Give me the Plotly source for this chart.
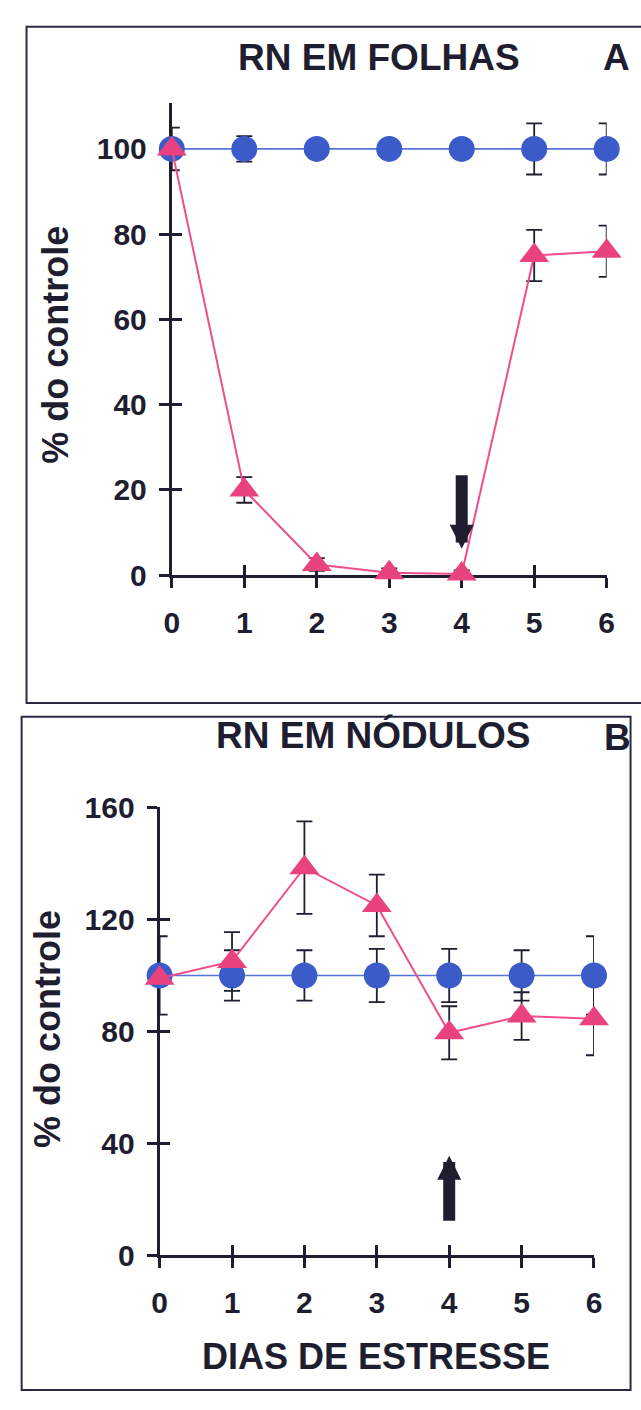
import plotly.graph_objects as go

# ---------------- data ----------------
days = [0, 1, 2, 3, 4, 5, 6]

# Panel A - RN em folhas
folhas_controle = [100, 100, 100, 100, 100, 100, 100]
folhas_controle_err = [5, 3, 0, 0, 0, 6, 6]
folhas_estresse = [100, 20, 2.5, 0.6, 0.3, 75, 76]
folhas_estresse_err = [0, 3, 1.5, 1, 0.8, 6, 6]
folhas_yticks = [0, 20, 40, 60, 80, 100]

# Panel B - RN em nodulos
nodulos_controle = [100, 100, 100, 100, 100, 100, 100]
nodulos_controle_err = [14, 9, 9, 9.5, 9.5, 9, 14]
nodulos_estresse = [99, 105, 138.5, 125, 79.5, 85.5, 84.5]
nodulos_estresse_err = [0, 10.5, 16.5, 11, 9.5, 8.5, 13]
nodulos_yticks = [0, 40, 80, 120, 160]

arrow_day = 4
folhas_arrow = [23.8, 6.2]     # tail, tip (value)
nodulos_arrow = [11.8, 35.6]   # tail, tip (value)

# ---------------- style ----------------
W, H = 641, 1410
DARK = "#1e1e30"
BLUE = "#3b5bc9"
BLUE_LINE = "#5573d8"
PINK = "#e9437f"
PINK_LINE = "#ef4d8c"
FONT = "Liberation Sans, Arial, sans-serif"


def px_x(p):
    return p / W


def px_y(p):
    return 1 - p / H


fig = go.Figure()


def add_panel(xa, ya, ctrl, ctrl_err, trt, trt_err):
    # error bars first (below markers)
    for yv, err in ((ctrl, ctrl_err), (trt, trt_err)):
        fig.add_trace(go.Scatter(
            x=days, y=yv, mode="markers", xaxis=xa, yaxis=ya,
            marker=dict(size=1, opacity=0), cliponaxis=False,
            error_y=dict(type="data", array=err, color=DARK, thickness=1.8, width=8),
            showlegend=False, hoverinfo="skip"))
    fig.add_trace(go.Scatter(
        x=days, y=ctrl, mode="lines+markers", xaxis=xa, yaxis=ya,
        line=dict(color=BLUE_LINE, width=1.6),
        marker=dict(symbol="circle", size=26, color=BLUE, line=dict(width=0)),
        cliponaxis=False, showlegend=False))
    fig.add_trace(go.Scatter(
        x=days, y=trt, mode="lines+markers", xaxis=xa, yaxis=ya,
        line=dict(color=PINK_LINE, width=2),
        marker=dict(symbol="triangle-up", size=26, color=PINK, line=dict(width=0)),
        cliponaxis=False, showlegend=False))


add_panel("x", "y", folhas_controle, folhas_controle_err, folhas_estresse, folhas_estresse_err)
add_panel("x2", "y2", nodulos_controle, nodulos_controle_err, nodulos_estresse, nodulos_estresse_err)

# invisible traces for overlay axes (inner half of crossing ticks)
fig.add_trace(go.Scatter(x=[None], y=[None], xaxis="x3", yaxis="y3", showlegend=False))
fig.add_trace(go.Scatter(x=[None], y=[None], xaxis="x4", yaxis="y4", showlegend=False))

tickfont = dict(family=FONT, size=30, color=DARK, weight="bold")

common_x = dict(range=[0, 6], tickvals=days, ticktext=[str(d) for d in days],
                showgrid=False, zeroline=False, layer="below traces", fixedrange=True)
common_y = dict(showgrid=False, zeroline=False, layer="below traces", fixedrange=True)

A_xdom = [px_x(168), px_x(614)]
A_ydom = [px_y(572), px_y(88)]
A_yrange = [0, 110.8]
B_xdom = [px_x(155.5), px_x(601)]
B_ydom = [px_y(1269), px_y(810)]
B_yrange = [0, 160]

outer = dict(ticks="outside", ticklen=10, tickwidth=2.5, tickcolor=DARK,
             showline=True, linewidth=3, linecolor=DARK, tickfont=tickfont)
inner = dict(ticks="inside", ticklen=10, tickwidth=2.5, tickcolor=DARK,
             showline=False, showticklabels=False)

fig.update_layout(
    width=W, height=H, autosize=False,
    margin=dict(l=0, r=0, t=0, b=0),
    paper_bgcolor="white", plot_bgcolor="rgba(0,0,0,0)",
    xaxis=dict(domain=A_xdom, anchor="y", ticklabelstandoff=9, **common_x, **outer),
    yaxis=dict(domain=A_ydom, anchor="x", range=A_yrange, tickvals=folhas_yticks,
               ticklabelstandoff=6, **common_y, **outer),
    xaxis3=dict(domain=A_xdom, anchor="y3", overlaying="x", **common_x, **inner),
    yaxis3=dict(domain=A_ydom, anchor="x3", overlaying="y", range=A_yrange,
                tickvals=folhas_yticks, **common_y, **inner),
    xaxis2=dict(domain=B_xdom, anchor="y2", ticklabelstandoff=9, **common_x, **outer),
    yaxis2=dict(domain=B_ydom, anchor="x2", range=B_yrange, tickvals=nodulos_yticks,
                ticklabelstandoff=6, **common_y, **outer),
    xaxis4=dict(domain=B_xdom, anchor="y4", overlaying="x2", **common_x, **inner),
    yaxis4=dict(domain=B_ydom, anchor="x4", overlaying="y2", range=B_yrange,
                tickvals=nodulos_yticks, **common_y, **inner),
)

title_font = dict(family=FONT, size=37, color=DARK, weight="bold")
axis_title_font = dict(family=FONT, size=36, color=DARK, weight="bold")

annotations = [
    dict(text="RN EM FOLHAS", x=px_x(381), y=px_y(42), xref="paper", yref="paper",
         xanchor="center", yanchor="middle", showarrow=False, font=title_font),
    dict(text="A", x=px_x(640), y=px_y(42), xref="paper", yref="paper",
         xanchor="right", yanchor="middle", showarrow=False, font=title_font),
    dict(text="RN EM NÓDULOS", x=px_x(375), y=px_y(736), xref="paper", yref="paper",
         xanchor="center", yanchor="middle", showarrow=False, font=title_font),
    dict(text="B", x=px_x(609), y=px_y(738), xref="paper", yref="paper",
         xanchor="left", yanchor="middle", showarrow=False, font=title_font),
    dict(text="% do controle", x=px_x(49), y=px_y(336), xref="paper", yref="paper",
         xanchor="center", yanchor="middle", textangle=-90, showarrow=False,
         font=axis_title_font),
    dict(text="% do controle", x=px_x(41), y=px_y(1037), xref="paper", yref="paper",
         xanchor="center", yanchor="middle", textangle=-90, showarrow=False,
         font=axis_title_font),
    dict(text="DIAS DE ESTRESSE", x=px_x(377), y=px_y(1373), xref="paper", yref="paper",
         xanchor="center", yanchor="middle", showarrow=False, font=axis_title_font),
    # arrows
    dict(text="", x=arrow_day, y=folhas_arrow[1], ax=arrow_day, ay=folhas_arrow[0],
         xref="x", yref="y", axref="x", ayref="y", showarrow=True,
         arrowhead=2, arrowwidth=12, arrowsize=0.4, arrowcolor=DARK),
    dict(text="", x=arrow_day, y=nodulos_arrow[1], ax=arrow_day, ay=nodulos_arrow[0],
         xref="x2", yref="y2", axref="x2", ayref="y2", showarrow=True,
         arrowhead=2, arrowwidth=12, arrowsize=0.4, arrowcolor=DARK),
]
fig.update_layout(annotations=annotations)

border = dict(color="#2a2a44", width=2)
fig.add_shape(type="rect", xref="paper", yref="paper",
              x0=px_x(19), x1=1.05, y0=px_y(703), y1=px_y(10), line=border, layer="below")
fig.add_shape(type="rect", xref="paper", yref="paper",
              x0=px_x(14), x1=px_x(638.5), y0=px_y(1407), y1=px_y(717), line=border, layer="below")

fig.write_html("out.html")
